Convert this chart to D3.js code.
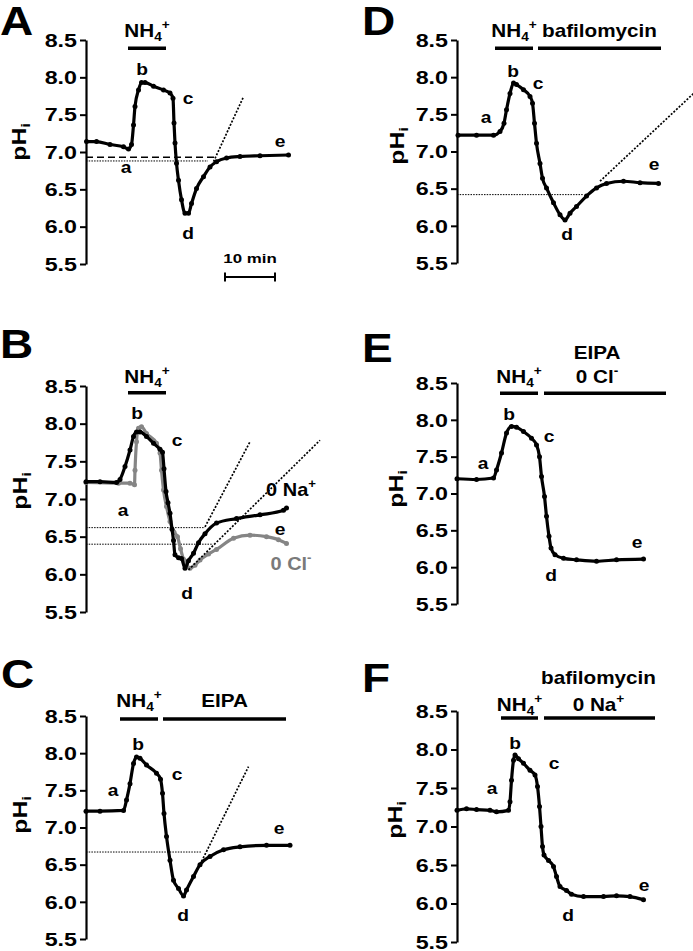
<!DOCTYPE html>
<html><head><meta charset="utf-8">
<script src="https://cdn.jsdelivr.net/npm/d3@7"></script>
<style>
html,body{margin:0;padding:0;background:#fff;}
svg{display:block;}
text{font-family:"Liberation Sans",Arial,Helvetica,sans-serif;font-weight:bold;}
</style></head><body>
<svg id="fig" width="693" height="951"></svg>
<script>
// ---------------- DATA (time in min, pHi) ----------------
const phTicks = [5.5, 6.0, 6.5, 7.0, 7.5, 8.0, 8.5];

const traceA = [[0.1,7.14],[2.1,7.14],[4.8,7.10],[7.5,7.07],[8.5,7.04],[9.1,7.10],[9.5,7.36],[9.8,7.61],[10.5,7.83],[11.1,7.93],[11.8,7.93],[13.5,7.88],[15.5,7.83],[16.8,7.79],[17.4,7.72],[17.6,7.39],[17.8,7.12],[18.1,6.85],[18.5,6.62],[19.1,6.36],[19.8,6.18],[20.5,6.18],[21.1,6.31],[22.1,6.51],[23.5,6.67],[24.8,6.80],[26.1,6.87],[28.1,6.92],[30.8,6.94],[34.8,6.95],[40.5,6.96]];

const traceBgrey = [[0,7.22],[6.5,7.21],[8.8,7.21],[9.7,7.19],[9.8,7.38],[10.1,7.76],[10.5,7.94],[11.1,7.96],[12.1,7.87],[14.1,7.74],[14.8,7.61],[15.1,7.38],[15.5,7.12],[16.1,6.90],[16.8,6.70],[17.6,6.56],[18.3,6.50],[18.9,6.34],[19.5,6.20],[20.1,6.13],[20.8,6.08],[21.8,6.12],[22.8,6.19],[24.5,6.27],[26.1,6.33],[29.5,6.48],[32.8,6.52],[36.1,6.50],[38.5,6.46],[40.1,6.41]];

const traceBblack = [[0,7.23],[2.8,7.23],[6.1,7.22],[6.8,7.26],[7.8,7.43],[8.8,7.65],[9.5,7.83],[10.1,7.89],[10.8,7.89],[12.1,7.83],[13.5,7.74],[14.8,7.66],[15.3,7.62],[15.6,7.40],[16.0,7.10],[16.4,6.95],[16.8,6.81],[17.2,6.60],[17.5,6.45],[17.8,6.26],[18.5,6.22],[19.1,6.21],[19.8,6.08],[20.5,6.18],[21.5,6.28],[22.5,6.42],[23.8,6.54],[26.1,6.68],[30.1,6.74],[34.8,6.79],[39.5,6.85],[40.1,6.88]];

const traceC = [[0,7.22],[2.8,7.22],[7.5,7.23],[8.1,7.37],[8.8,7.59],[9.5,7.86],[10.1,7.95],[10.8,7.93],[12.1,7.84],[14.1,7.73],[14.9,7.65],[15.3,7.46],[15.6,7.19],[16.1,6.88],[16.8,6.56],[17.5,6.29],[18.5,6.18],[19.5,6.08],[20.1,6.16],[21.5,6.34],[22.8,6.50],[24.8,6.61],[27.5,6.70],[30.8,6.74],[36.1,6.76],[40.8,6.76]];

const traceD = [[0.2,7.22],[3.9,7.22],[7.3,7.22],[8.6,7.27],[9.4,7.38],[9.9,7.56],[10.6,7.78],[11.3,7.92],[11.9,7.90],[13.3,7.83],[14.6,7.74],[15.1,7.65],[15.5,7.38],[15.9,7.11],[16.6,6.84],[17.1,6.64],[17.9,6.51],[19.3,6.31],[20.6,6.15],[21.6,6.08],[22.6,6.17],[23.9,6.26],[25.9,6.40],[27.9,6.51],[29.9,6.57],[33.3,6.60],[36.6,6.58],[40.3,6.57]];

const traceE = [[0,7.20],[3.9,7.19],[7.3,7.21],[7.9,7.32],[8.9,7.55],[9.9,7.82],[10.9,7.91],[11.9,7.90],[13.3,7.84],[14.9,7.75],[15.9,7.66],[16.5,7.50],[16.9,7.23],[17.5,6.96],[17.9,6.69],[18.4,6.42],[18.8,6.26],[19.6,6.17],[21.3,6.12],[23.9,6.10],[27.9,6.08],[31.9,6.10],[37.3,6.11]];

const traceF = [[0,7.21],[1.9,7.23],[3.9,7.22],[6.6,7.21],[7.9,7.19],[10.3,7.21],[10.6,7.32],[10.9,7.60],[11.3,7.86],[11.6,7.93],[12.3,7.88],[13.3,7.82],[14.6,7.73],[15.6,7.67],[16.1,7.52],[16.5,7.26],[16.8,7.00],[17.1,6.74],[17.4,6.63],[18.3,6.56],[19.3,6.48],[19.9,6.35],[20.6,6.22],[21.9,6.17],[22.9,6.12],[25.3,6.09],[29.3,6.09],[31.9,6.10],[34.6,6.09],[37.3,6.05]];

// horizontal reference levels: [pHi, end time]
const refA = [[6.93, 25.8], [6.88, 24.4]];
const refB = [[6.62, 23.8], [6.40, 25.4]];
const refC = [[6.67, 23.1]];
const refD = [[6.42, 25.3]];

// tangent (rate) lines: [[t0,pH0],[t1,pH1]]
const slopeA = [[[25.5,6.87],[31.5,7.74]]];
const slopeB = [[[23.8,6.63],[32.8,7.76]], [[20.5,6.06],[46.8,7.78]]];
const slopeC = [[[22.8,6.50],[32.5,7.82]]];
const slopeD = [[[28.6,6.60],[47.3,7.78]]];

// treatment bars: [label lines, t start, t end]
const treatA = [[["NH4+"], 8.4, 16.0]];
const treatB = [[["NH4+"], 8.4, 16.0]];
const treatC = [[["NH4+"], 6.8, 14.4], [["EIPA"], 15.4, 40.0]];
const treatD = [[["NH4+"], 7.6, 15.2], [["bafilomycin"], 16.2, 40.8]];
const treatE = [[["NH4+"], 8.6, 16.2], [["EIPA", "0 Cl-"], 17.4, 41.8]];
const treatF = [[["NH4+"], 8.8, 16.2], [["bafilomycin", "0 Na+"], 17.4, 39.6]];

// point labels a-e: [letter, t, pHi]
const ptsA = [["a",8.0,6.79],["b",11.2,8.10],["c",20.4,7.71],["d",20.4,5.91],["e",38.8,7.14]];
const ptsB = [["a",7.4,6.85],["b",10.2,8.14],["c",18.2,7.78],["d",20.2,5.74],["e",38.8,6.60]];
const ptsC = [["a",5.4,7.50],["b",10.4,8.12],["c",18.2,7.71],["d",19.4,5.81],["e",38.6,6.99]];
const ptsD = [["a",5.8,7.46],["b",11.2,8.08],["c",16.2,7.92],["d",22.0,5.88],["e",39.4,6.82]];
const ptsE = [["a",5.2,7.41],["b",10.4,8.07],["c",18.4,7.78],["d",18.8,5.89],["e",36.0,6.34]];
const ptsF = [["a",7.0,7.49],["b",11.6,8.08],["c",19.4,7.82],["d",22.2,5.84],["e",37.4,6.23]];

// condition labels in panel B: [text, t, pHi, colour]
const condB = [["0 Na+", 41.0, 7.12, "#000"], ["0 Cl-", 41.0, 6.15, "#7a7a7a"]];

const scaleBarMin = [27.8, 37.8]; // 10 min

// ---------------- LAYOUT ----------------
const panels = [
  {id:"A", ax:86,  top:40,  bot:264, letter:[0,35],   ylab:[26,142], traces:[[traceA,"#000"]], ref:refA, slope:slopeA, treat:treatA, pts:ptsA, hdr:[-3], barPH:8.39, dashFirst:true},
  {id:"B", ax:86,  top:386, bot:612, letter:[0,358],  ylab:[27,491], traces:[[traceBgrey,"#858585"],[traceBblack,"#000"]], ref:refB, slope:slopeB, treat:treatB, pts:ptsB, hdr:[-3], barPH:8.41},
  {id:"C", ax:86,  top:716, bot:939, letter:[1,688],  ylab:[27,815], traces:[[traceC,"#000"]], ref:refC, slope:slopeC, treat:treatC, pts:ptsC, hdr:[-9], barPH:8.46},
  {id:"D", ax:457, top:40,  bot:263, letter:[362,35], ylab:[404,146], traces:[[traceD,"#000"]], ref:refD, slope:slopeD, treat:treatD, pts:ptsD, hdr:[-3], barPH:8.39},
  {id:"E", ax:457, top:383, bot:604, letter:[362,362],ylab:[403,489], traces:[[traceE,"#000"]], ref:[], slope:[], treat:treatE, pts:ptsE, hdr:[0,-24], barPH:8.36, hdrDx:-8},
  {id:"F", ax:457, top:711, bot:942, letter:[362,692],ylab:[402,820], traces:[[traceF,"#000"]], ref:[], slope:[], treat:treatF, pts:ptsF, hdr:[0,-27], barPH:8.41, hdrDx:-1},
];

const svg = d3.select("#fig");

function parts(str){
  if (str === "NH4+") return [["NH",0],["4",1],["+",-1]];
  if (/[+-]$/.test(str) && /[A-Za-z]/.test(str)) return [[str.slice(0,-1),0],[str.slice(-1),-1]];
  return [[str,0]];
}
function stext(g, x, y, prts, o){
  const fs = o.fs, sx = o.sx || 1;
  const t = g.append("text")
    .attr("transform", `translate(${x},${y}) rotate(${o.rot||0}) scale(${sx},1)`)
    .attr("text-anchor", o.anchor || "middle")
    .attr("font-size", fs)
    .attr("fill", o.fill || "#000");
  let cur = 0;
  prts.forEach(([s, k]) => {
    const target = k === 1 ? 0.22*fs : (k === -1 ? -0.42*fs : 0);
    const sp = t.append("tspan").text(s).attr("dy", target - cur);
    if (k !== 0) sp.attr("font-size", fs*0.66);
    cur = target;
  });
  return t;
}

panels.forEach(p => {
  const g = svg.append("g");
  const x = d3.scaleLinear().domain([0, 47]).range([p.ax, p.ax + 235]);
  const y = d3.scaleLinear().domain([5.5, 8.5]).range([p.bot, p.top]);

  // panel letter
  stext(g, p.letter[0], p.letter[1], [[p.id,0]], {fs:40, sx:1.15, anchor:"start"});

  // y axis
  const ax = g.append("g").attr("transform", `translate(${p.ax},0)`)
    .call(d3.axisLeft(y).tickValues(phTicks).tickSize(6).tickSizeOuter(0).tickFormat(d3.format(".1f")));
  ax.attr("font-family", null).attr("font-size", null);
  ax.select(".domain").attr("stroke", "#000").attr("stroke-width", 2.2);
  ax.selectAll(".tick line").attr("stroke", "#000").attr("stroke-width", 2);
  const sxT = 1.33;
  ax.selectAll(".tick text")
    .attr("font-size", 17.5).attr("fill", "#000")
    .attr("x", -9 / sxT).attr("dy", "0.36em")
    .attr("transform", `scale(${sxT},1)`);

  // y label pHi
  const yl = g.append("text")
    .attr("transform", `translate(${p.ylab[0]},${p.ylab[1]}) rotate(-90) scale(1.18,1)`)
    .attr("text-anchor", "middle").attr("font-size", 21);
  yl.append("tspan").text("pH");
  yl.append("tspan").text("i").attr("font-size", 13).attr("dy", 4);

  // reference horizontal lines
  p.ref.forEach((r, i) => {
    const dashed = p.dashFirst && i === 0;
    g.append("line")
      .attr("x1", x(0)).attr("x2", x(r[1]))
      .attr("y1", y(r[0])).attr("y2", y(r[0]))
      .attr("stroke", "#000")
      .attr("stroke-width", dashed ? 1.6 : 1)
      .attr("stroke-dasharray", dashed ? "7,4" : "1.5,1.2");
  });

  // traces
  const line = d3.line().x(d => x(d[0])).y(d => y(d[1])).curve(d3.curveMonotoneX);
  p.traces.forEach(([data, col]) => {
    g.append("path").datum(data).attr("d", line)
      .attr("fill", "none").attr("stroke", col).attr("stroke-width", 3.2)
      .attr("stroke-linejoin", "round");
    g.selectAll(null).data(data).enter().append("circle")
      .attr("cx", d => x(d[0])).attr("cy", d => y(d[1])).attr("r", 2.5).attr("fill", col);
  });

  // slope lines
  p.slope.forEach(s => {
    g.append("line")
      .attr("x1", x(s[0][0])).attr("y1", y(s[0][1]))
      .attr("x2", x(s[1][0])).attr("y2", y(s[1][1]))
      .attr("stroke", "#000").attr("stroke-width", 1.7).attr("stroke-dasharray", "2,1.6");
  });

  // treatment bars + headers
  const barY = y(p.barPH);
  p.treat.forEach(([labels, t0, t1], i) => {
    g.append("line").attr("x1", x(t0)).attr("x2", x(t1)).attr("y1", barY).attr("y2", barY)
      .attr("stroke", "#000").attr("stroke-width", 3.6);
    const cx = (x(t0) + x(t1)) / 2 + (i > 0 && p.hdrDx ? p.hdrDx : 0);
    labels.forEach((lab, j) => {
      const level = labels.length - 1 - j; // 0 = lowest line
      const dy = level === 0 ? p.hdr[0] : p.hdr[1];
      stext(g, cx, y(8.5) + dy, parts(lab), {fs:18, sx:1.15});
    });
  });

  // point labels a-e
  p.pts.forEach(([l, t, v]) => {
    stext(g, x(t), y(v) + 5.5, [[l,0]], {fs:16, sx:1.2});
  });

  if (p.id === "B") {
    condB.forEach(([s, t, v, c]) => {
      stext(g, x(t), y(v) + 6.5, parts(s), {fs:19, sx:1.05, fill:c});
    });
  }

  if (p.id === "A") {
    const yb = 277;
    const x0 = x(scaleBarMin[0]), x1 = x(scaleBarMin[1]);
    g.append("line").attr("x1", x0).attr("x2", x1).attr("y1", yb).attr("y2", yb).attr("stroke", "#000").attr("stroke-width", 2);
    [x0, x1].forEach(xx => g.append("line").attr("x1", xx).attr("x2", xx).attr("y1", yb - 4.5).attr("y2", yb + 4.5).attr("stroke", "#000").attr("stroke-width", 2));
    stext(g, (x0 + x1) / 2, 263, [["10 min",0]], {fs:13, sx:1.3});
  }
});
</script>
</body></html>
